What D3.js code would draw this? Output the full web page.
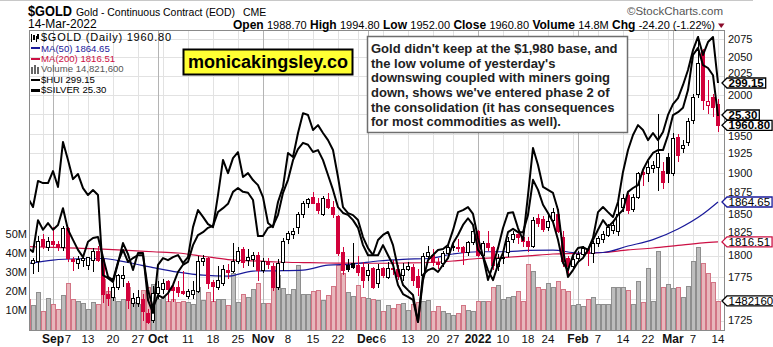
<!DOCTYPE html>
<html><head><meta charset="utf-8">
<script src="https://cdn.jsdelivr.net/npm/d3@7"></script>
<style>body{margin:0;background:#fff;} svg{display:block;font-family:"Liberation Sans",Arial,sans-serif;}</style>
</head><body><svg id="c" width="773" height="347"></svg>
<script>
// ---------- DATA ----------
const dates = ["2021-08-25","2021-08-26","2021-08-27","2021-08-30","2021-08-31",
"2021-09-01","2021-09-02","2021-09-03","2021-09-07","2021-09-08","2021-09-09","2021-09-10","2021-09-13","2021-09-14","2021-09-15","2021-09-16","2021-09-17","2021-09-20","2021-09-21","2021-09-22","2021-09-23","2021-09-24","2021-09-27","2021-09-28","2021-09-29","2021-09-30",
"2021-10-01","2021-10-04","2021-10-05","2021-10-06","2021-10-07","2021-10-08","2021-10-11","2021-10-12","2021-10-13","2021-10-14","2021-10-15","2021-10-18","2021-10-19","2021-10-20","2021-10-21","2021-10-22","2021-10-25","2021-10-26","2021-10-27","2021-10-28","2021-10-29",
"2021-11-01","2021-11-02","2021-11-03","2021-11-04","2021-11-05","2021-11-08","2021-11-09","2021-11-10","2021-11-11","2021-11-12","2021-11-15","2021-11-16","2021-11-17","2021-11-18","2021-11-19","2021-11-22","2021-11-23","2021-11-24","2021-11-26","2021-11-29","2021-11-30",
"2021-12-01","2021-12-02","2021-12-03","2021-12-06","2021-12-07","2021-12-08","2021-12-09","2021-12-10","2021-12-13","2021-12-14","2021-12-15","2021-12-16","2021-12-17","2021-12-20","2021-12-21","2021-12-22","2021-12-23","2021-12-27","2021-12-28","2021-12-29","2021-12-30","2021-12-31",
"2022-01-03","2022-01-04","2022-01-05","2022-01-06","2022-01-07","2022-01-10","2022-01-11","2022-01-12","2022-01-13","2022-01-14","2022-01-18","2022-01-19","2022-01-20","2022-01-21","2022-01-24","2022-01-25","2022-01-26","2022-01-27","2022-01-28","2022-01-31",
"2022-02-01","2022-02-02","2022-02-03","2022-02-04","2022-02-07","2022-02-08","2022-02-09","2022-02-10","2022-02-11","2022-02-14","2022-02-15","2022-02-16","2022-02-17","2022-02-18","2022-02-22","2022-02-23","2022-02-24","2022-02-25","2022-02-28",
"2022-03-01","2022-03-02","2022-03-03","2022-03-04","2022-03-07","2022-03-08","2022-03-09","2022-03-10","2022-03-11","2022-03-14"];

const open = [1803,1791,1794,1820,1811,1818,1814,1810,1833,1796,
1792,1795,1789,1795,1806,1796,1755,1752,1764,1774,
1768,1745,1745,1750,1734,1726,1757,1761,1770,1763,
1764,1759,1753,1756,1759,1794,1797,1769,1764,1768,
1783,1782,1794,1808,1795,1796,1801,1783,1794,1788,
1764,1793,1820,1826,1834,1850,1863,1871,1863,1850,
1868,1859,1847,1805,1789,1792,1789,1787,1777,1786,
1768,1786,1775,1786,1784,1777,1784,1787,1776,1777,
1800,1801,1793,1791,1803,1810,1811,1810,1805,1816,
1829,1801,1815,1811,1788,1797,1805,1820,1826,1822,
1817,1812,1845,1844,1834,1843,1850,1822,1797,1788,
1797,1802,1808,1803,1815,1820,1825,1831,1829,1859,
1873,1856,1871,1902,1900,1907,1908,1903,1921,1900,
1946,1932,1940,1968,2001,2060,1987,1998,1988.7];
const high = [1806,1797,1823,1826,1822,1834,1818,1836,1834,1799,
1800,1802,1799,1809,1812,1798,1764,1768,1779,1788,
1770,1757,1760,1755,1738,1765,1770,1773,1772,1768,
1770,1782,1761,1770,1800,1801,1799,1772,1788,1789,
1790,1815,1810,1810,1808,1805,1804,1797,1797,1792,
1796,1821,1830,1833,1852,1866,1870,1877,1870,1872,
1876,1866,1849,1810,1796,1815,1800,1793,1790,1787,
1790,1787,1793,1795,1789,1792,1793,1790,1784,1803,
1812,1808,1797,1806,1814,1818,1820,1812,1818,1832,
1831,1818,1830,1812,1802,1805,1822,1830,1829,1832,
1822,1846,1850,1847,1850,1857,1856,1829,1800,1800,
1806,1812,1810,1817,1824,1830,1838,1843,1866,1875,
1876,1875,1902,1906,1915,1915,1976,1914,1925,1951,
1950,1942,1970,2002,2078.8,2061,2020,2002,1994.8];
const low = [1785,1779,1781,1808,1806,1810,1806,1806,1793,1782,
1784,1787,1783,1781,1793,1745,1742,1747,1760,1764,
1738,1740,1740,1725,1721,1722,1750,1755,1746,1746,
1752,1754,1750,1750,1757,1788,1761,1746,1760,1765,
1773,1780,1790,1786,1788,1787,1771,1780,1785,1759,
1760,1782,1814,1820,1826,1845,1857,1862,1850,1848,
1856,1845,1800,1778,1781,1784,1776,1762,1770,1761,
1762,1774,1773,1777,1772,1771,1782,1765,1753,1772,
1795,1788,1784,1787,1800,1806,1805,1789,1800,1813,
1798,1797,1806,1783,1782,1790,1798,1815,1814,1810,
1804,1809,1834,1828,1830,1835,1827,1787,1779,1785,
1791,1797,1788,1792,1810,1815,1822,1826,1824,1852,
1850,1852,1868,1884,1889,1900,1878,1880,1888,1897,
1914,1925,1935,1962,1996,1980,1976,1972,1952];
const close = [1790,1795,1818,1812,1817,1814,1810,1833,1797,1794,
1796,1797,1798,1806,1795,1756,1751,1764,1777,1778,
1749,1751,1752,1736,1723,1757,1764,1768,1761,1760,
1758,1757,1759,1760,1794,1797,1768,1765,1772,1785,
1781,1794,1806,1793,1799,1801,1783,1794,1790,1764,
1792,1817,1827,1830,1850,1863,1868,1864,1855,1869,
1859,1850,1803,1783,1785,1787,1781,1772,1783,1763,
1785,1778,1786,1784,1776,1784,1788,1772,1763,1800,
1805,1793,1790,1803,1811,1812,1810,1805,1816,1829,
1801,1815,1810,1789,1797,1799,1818,1826,1822,1817,
1812,1843,1839,1832,1841,1852,1829,1794,1788,1796,
1802,1809,1803,1815,1821,1826,1834,1837,1850,1869,
1855,1871,1900,1899,1908,1910,1926,1889,1900,1944,
1923,1936,1966,1998,2043,1994,1992,1985,1960.8];
// volume in millions
const volume = [15.7,12.7,19.4,9.5,16.2,13.2,10.8,18,24.3,15.7,
15,13.6,10.6,14,13.2,26.5,20,17,15,16,
22,14,13,20.6,22,23.8,16,17,15,16,
14,15,14,13,22,15.3,19.4,14.8,15.9,16,
12.7,29.5,14.3,18.7,17,21,24.2,13.6,13.6,33.5,
28.6,21.8,18.7,21.3,33.9,18.7,18.7,20.2,20.6,15.3,
18,22.8,33.9,29.5,19.4,17.3,23,16.8,16.5,16,
15.5,9.5,12.5,11.2,13,13.6,9.9,13.1,14,14.6,
15.3,9.5,12.2,9.5,8.5,7.4,8.5,12.7,10,9.5,
14.6,14.6,14.6,22.4,23.3,15.9,16.8,17.6,20.3,14.6,
34.2,30.7,22,21,24.5,22,25.5,21,20,12.7,
13,12,16,17,13,13.2,13,22,22.3,22,
20.6,13.1,25.4,14.5,32.1,14.8,41.3,22.1,23.8,21.4,
22.1,17.1,22.8,36.1,43.2,34.8,29.5,24.7,14.8216];
const hui = [260.8,257.8,266.5,265.8,265.8,269.8,264.5,279.5,273.5,267.1,
268.8,264.1,261.8,263.5,261.8,235.1,234.1,232.8,239.1,245.8,
242.1,236.8,242.5,242.5,226.8,222.5,238.5,240.8,240.1,241.1,
241.8,239.1,241.1,251.1,256.8,254.5,252.1,251.1,261.8,273.5,
269.1,274.1,276.1,267.8,269.1,266.8,265.1,261.1,252.5,251.1,
259.5,264.5,275.8,274.5,282.5,289.1,288.5,283.5,285.1,282.5,
280.1,276.8,267.8,257.8,255.8,255.1,253.5,247.8,244.1,241.8,
246.8,248.5,249.5,245.1,237.5,231.8,230.1,228.5,219.5,233.5,
240.1,241.8,243.5,243.8,245.1,250.1,256.1,256.8,257.8,255.5,
247.5,241.5,233.5,238.5,244.1,250.8,255.8,256.1,250.8,246.8,
261.8,277.5,271.8,264.5,263.5,262.5,256.8,243.5,234.5,236.8,
239.5,240.8,243.5,247.5,256.1,257.8,256.1,254.5,259.5,269.5,
276.8,281.8,285.1,283.5,280.1,282.5,280.1,282.8,288.5,292.1,
294.1,298.5,303.5,310.1,314.5,308.5,312.8,314.5,299.15];
const silver = [22.55,22.47,23.13,22.93,23.07,22.93,23.03,23.38,22.93,22.72,
22.51,22.36,22.68,22.76,22.78,22.36,21.95,21.88,22.26,22.51,
22.26,22.34,22.40,22.40,21.68,21.30,21.57,21.51,21.61,21.78,
22.05,22.20,22.26,22.61,22.82,22.88,22.97,23.01,23.30,23.38,
23.47,23.72,23.80,23.72,23.70,23.55,22.80,22.80,22.97,23.01,
23.24,23.70,23.97,24.38,24.61,24.74,24.70,24.55,24.59,24.38,
24.07,23.76,23.40,23.28,23.24,23.13,22.97,22.61,22.40,22.40,
22.40,22.61,22.40,22.20,21.78,21.59,21.53,21.47,21.01,21.99,
22.09,22.13,22.05,22.20,22.34,22.65,22.82,23.03,23.17,23.03,
22.51,22.38,22.09,21.88,22.20,22.45,22.88,22.95,22.88,22.88,
23.24,23.97,23.76,23.45,23.28,23.09,22.72,22.24,22.09,22.40,
22.55,22.57,22.51,22.72,22.93,23.13,22.99,23.09,23.24,23.34,
23.72,23.80,23.86,24.18,24.38,24.53,24.59,24.59,24.90,25.32,
25.38,25.47,25.84,26.57,26.72,26.36,26.30,26.15,25.30];
const maDates = ["2021-08-25","2021-09-01","2021-09-09","2021-09-16","2021-09-23","2021-09-30","2021-10-07","2021-10-14","2021-10-21","2021-10-28","2021-11-04","2021-11-11","2021-11-18","2021-11-26","2021-12-03","2021-12-10","2021-12-17","2021-12-27","2022-01-03","2022-01-10","2022-01-18","2022-01-25","2022-02-01","2022-02-08","2022-02-15","2022-02-23","2022-03-02","2022-03-09","2022-03-14"];
const ma50 = [1790.9,1795.0,1796.5,1796.8,1792.1,1786.2,1780.9,1777.3,1776.2,1782.1,1782.4,1783.2,1789.1,1790.3,1793.9,1795.9,1796.8,1802.1,1804.8,1804.8,1806.3,1806.8,1803.3,1803.9,1811.6,1819.2,1831.9,1850.0,1864.65];
const ma200 = [1810.8,1810.0,1809.2,1807.8,1806.3,1804.8,1803.3,1799.5,1795.6,1794.0,1792.7,1792.0,1791.5,1791.3,1791.2,1791.5,1792.1,1793.9,1796.8,1798.0,1799.8,1802.1,1802.7,1803.9,1806.9,1809.2,1812.3,1815.3,1816.51];
const priceTicks = [1725,1750,1775,1800,1825,1850,1875,1900,1925,1950,1975,2000,2025,2050,2075];
const volTicks = [10,20,30,40,50];
const tickDates = ["2021-09-01","2021-09-07","2021-09-13","2021-09-20","2021-09-27","2021-10-01","2021-10-11","2021-10-18","2021-10-25","2021-11-01","2021-11-08","2021-11-15","2021-11-22","2021-12-01","2021-12-06","2021-12-13","2021-12-20","2021-12-27","2022-01-03","2022-01-10","2022-01-18","2022-01-24","2022-02-01","2022-02-07","2022-02-14","2022-02-22","2022-03-01","2022-03-07","2022-03-14"];
const tickTexts = ["Sep","7","13","20","27","Oct","11","18","25","Nov","8","15","22","Dec","6","13","20","27","2022","10","18","24","Feb","7","14","22","Mar","7","14"];
const legendTexts = ["$GOLD (Daily) 1960.80","MA(50) 1864.65","MA(200) 1816.51","Volume 14,821,600","$HUI 299.15","$SILVER 25.30"];
const statLabels = ["Open","High","Low","Close","Volume","Chg"];
const statValues = ["1988.70","1994.80","1952.00","1960.80","14.8M","-24.20 (-1.22%)"];
const noteLines = ["Gold didn't keep at the $1,980 base, and","the low volume of yesterday's","downswing coupled with miners going","down, shows we've entered phase 2 of","the consolidation (it has consequences","for most commodities as well)."];

// ---------- SETUP ----------
const svg = d3.select('#c');
const L=29, R=725, T=30, B=331;
const RED='#d2003a', NAVY='#1a1a9a', MARED='#cc1044';
const x = d3.scalePoint().domain(dates).range([28,718]);
const y = d3.scaleLog().domain([1725,2075]).range([320.7,39]);
const yVol = d3.scaleLinear().domain([0,50]).range([329,234.3]);
const yHui = d3.scaleLinear().domain([220,320]).range([320.45,20.45]);
const ySil = d3.scaleLinear().domain([20,27]).range([370.4,34.4]);
const parse = d3.timeParse('%Y-%m-%d');

svg.append('rect').attr('width',773).attr('height',347).attr('fill','#fff');
svg.append('line').attr('x1',0).attr('x2',753).attr('y1',0.5).attr('y2',0.5).attr('stroke','#c8c8c8');

const defs = svg.append('defs');
defs.append('clipPath').attr('id','plot').append('rect').attr('x',L).attr('y',T).attr('width',R-L).attr('height',B-T);

// grid
const grid = svg.append('g').attr('shape-rendering','crispEdges');
priceTicks.forEach(t=>{
  const yy=Math.round(y(t))+0.5;
  grid.append('line').attr('x1',L).attr('x2',R).attr('y1',yy).attr('y2',yy).attr('stroke','#e2e2e2');
});
dates.forEach((d,i)=>{
  if(i===0) return;
  const a=parse(dates[i-1]), b=parse(d);
  const newMonth = a.getMonth()!==b.getMonth();
  const newWeek = b.getDay() < a.getDay() || (b-a) > 4*864e5;
  if(newMonth||newWeek){
    const xx=Math.round(x(d))+0.5;
    grid.append('line').attr('x1',xx).attr('x2',xx).attr('y1',T).attr('y2',B)
      .attr('stroke',newMonth?'#b4b4b4':'#e2e2e2');
  }
});

const plot = svg.append('g').attr('clip-path','url(#plot)');

// volume
const vg = plot.append('g').attr('shape-rendering','crispEdges');
dates.forEach((d,i)=>{
  const down = i>0 ? close[i]<close[i-1] : close[i]<open[i];
  const px=Math.round(x(d));
  const top=Math.round(yVol(volume[i]))+0.5;
  vg.append('rect').attr('x',px-1.5).attr('width',4).attr('y',top).attr('height',B+2-top)
    .attr('fill',down?'#e8b7bc':'#bdbdbd').attr('stroke',down?'#d27585':'#8e8e8e').attr('stroke-width',1);
});

// moving averages
const maLine = arr => d3.line().x((d,i)=>x(maDates[i])).y(d=>y(d)).curve(d3.curveMonotoneX)(arr);
plot.append('path').attr('d',maLine(ma200)).attr('fill','none').attr('stroke',MARED).attr('stroke-width',1.2);
plot.append('path').attr('d',maLine(ma50)).attr('fill','none').attr('stroke',NAVY).attr('stroke-width',1.2);

// candles
const cg = plot.append('g').attr('shape-rendering','crispEdges');
dates.forEach((d,i)=>{
  const prev = i>0?close[i-1]:open[i];
  const col = close[i]<prev ? RED : '#000';
  const hollow = close[i]>=open[i];
  const px=Math.round(x(d));
  cg.append('rect').attr('x',px).attr('width',1)
    .attr('y',Math.round(y(high[i]))).attr('height',Math.max(1,Math.round(y(low[i]))-Math.round(y(high[i]))))
    .attr('fill',col);
  const t=Math.round(y(Math.max(open[i],close[i])))+0.5;
  const b=Math.round(y(Math.min(open[i],close[i])))+0.5;
  cg.append('rect').attr('x',px-1.5).attr('width',3).attr('y',t).attr('height',Math.max(1,b-t))
    .attr('fill',hollow?'#fff':col).attr('stroke',col).attr('stroke-width',1);
});

// overlays
const lg = d3.line().x((d,i)=>x(dates[i])).curve(d3.curveLinear);
plot.append('path').attr('d',lg.y(d=>ySil(d))(silver)).attr('fill','none').attr('stroke','#000').attr('stroke-width',2).attr('stroke-linejoin','round');
plot.append('path').attr('d',lg.y(d=>yHui(d))(hui)).attr('fill','none').attr('stroke','#000').attr('stroke-width',2).attr('stroke-linejoin','round');

// frame
svg.append('rect').attr('x',L+0.5).attr('y',T+0.5).attr('width',R-L-1).attr('height',B-T-1)
  .attr('fill','none').attr('stroke','#8a8a8a').attr('shape-rendering','crispEdges');

// value boxes (positions from data)
const boxes = [
  {yc:yHui(hui[hui.length-1]), txt:'299.15', stroke:'#000', bold:true},
  {yc:ySil(silver[silver.length-1])-1, txt:'25.30', stroke:'#000', bold:true},
  {yc:y(close[close.length-1]), txt:'1960.80', stroke:'#000', bold:true},
  {yc:y(ma50[ma50.length-1]), txt:'1864.65', stroke:NAVY, bold:false},
  {yc:y(ma200[ma200.length-1]), txt:'1816.51', stroke:MARED, bold:false},
  {yc:yVol(volume[volume.length-1]), txt:'1482160', stroke:'#000', bold:false}
];

// axes labels (skip the ones fully hidden behind value boxes, nudge the partly covered ones)
priceTicks.forEach(t=>{
  const yy=y(t);
  if(boxes.some(b=>Math.abs(b.yc-yy)<5)) return;
  let base=yy+3.5;
  boxes.forEach(b=>{
    if(yy<b.yc && base>b.yc-6) base=b.yc-6;
    if(yy>b.yc && base-8.5<b.yc+6) base=b.yc+14.5;
  });
  svg.append('text').attr('x',728).attr('y',base).attr('font-size',11).attr('fill','#111').text(t);
});
volTicks.forEach(v=>{
  svg.append('text').attr('x',27).attr('y',yVol(v)+4).attr('text-anchor','end').attr('font-size',11).attr('fill','#111').text(v+'M');
});
tickDates.forEach((d,i)=>{
  const isMonth = isNaN(+tickTexts[i]) || tickTexts[i].length===4;
  svg.append('text').attr('x',x(d)).attr('y',343).attr('text-anchor','middle')
    .attr('font-size',isMonth?12:11.5).attr('font-weight',isMonth?'bold':'normal').attr('fill','#111').text(tickTexts[i]);
});

// legend
const legColors=['#000',NAVY,MARED,'#555','#000','#000'];
legendTexts.forEach((s,i)=>{
  const cy=37.5+10.4*i;
  const t=svg.append('text').attr('x',41).attr('y',cy+3.6).attr('font-size',i===0?11:9.6).attr('fill',legColors[i]).text(s);
  if(i===0) t.attr('textLength',130).attr('lengthAdjust','spacing');
});
const li = svg.append('g').attr('shape-rendering','crispEdges');
li.append('rect').attr('x',31).attr('y',34).attr('width',1).attr('height',8).attr('fill','#000');
li.append('rect').attr('x',33).attr('y',35).attr('width',2).attr('height',5).attr('fill','#000');
li.append('rect').attr('x',36).attr('y',36).attr('width',1).attr('height',6).attr('fill','#000');
li.append('rect').attr('x',37).attr('y',34).attr('width',2).attr('height',5).attr('fill','#000');
li.append('rect').attr('x',31).attr('y',47).attr('width',9).attr('height',2).attr('fill',NAVY);
li.append('rect').attr('x',31).attr('y',57.5).attr('width',9).attr('height',2).attr('fill',MARED);
li.append('rect').attr('x',31).attr('y',67).attr('width',2).attr('height',7).attr('fill','#666');
li.append('rect').attr('x',34).attr('y',65).attr('width',2).attr('height',9).attr('fill','#666');
li.append('rect').attr('x',37).attr('y',67).attr('width',2).attr('height',7).attr('fill','#666');
li.append('rect').attr('x',31).attr('y',78.5).attr('width',9).attr('height',2.5).attr('fill','#000');
li.append('rect').attr('x',31).attr('y',89).attr('width',9).attr('height',2.5).attr('fill','#000');

// watermark
svg.append('rect').attr('x',183.5).attr('y',49.5).attr('width',169).attr('height',25).attr('fill','#ffff33').attr('stroke','#000').attr('stroke-width',2);
svg.append('text').attr('x',268).attr('y',68).attr('text-anchor','middle').attr('font-size',17.5).attr('font-weight','bold').attr('fill','#000')
  .attr('textLength',160).attr('lengthAdjust','spacingAndGlyphs').text('monicakingsley.co');

// annotation box
svg.append('rect').attr('x',367.5).attr('y',36.5).attr('width',260).attr('height',96).attr('fill','#fff').attr('stroke','#6e6e6e').attr('stroke-width',1.5);
noteLines.forEach((s,i)=>{
  svg.append('text').attr('x',371).attr('y',53+14.67*i).attr('font-size',13).attr('font-weight','bold').attr('fill','#222').text(s);
});

// value boxes drawing
boxes.forEach(bx=>{
  const yc=bx.yc;
  const g=svg.append('g');
  const t=g.append('text').attr('x',728.5).attr('y',yc+4).attr('font-size',11.5).attr('font-weight',bx.bold?'bold':'normal').attr('fill','#000').text(bx.txt);
  const w=t.node().getComputedTextLength();
  const r=728.5+w+2;
  g.insert('path','text').attr('d',`M722,${yc} L727,${yc-5} L${r},${yc-5} L${r},${yc+5} L727,${yc+5} Z`)
    .attr('fill','#fff').attr('stroke',bx.stroke).attr('stroke-width',1.3);
});

// header
svg.append('text').attr('x',28).attr('y',16).attr('font-size',15).attr('font-weight','bold').attr('textLength',44).attr('lengthAdjust','spacingAndGlyphs').text('$GOLD');
svg.append('text').attr('x',76).attr('y',16).attr('font-size',11.5).attr('textLength',159).attr('lengthAdjust','spacingAndGlyphs').text('Gold - Continuous Contract (EOD)');
svg.append('text').attr('x',243).attr('y',15.5).attr('font-size',10.5).text('CME');
svg.append('text').attr('x',723).attr('y',15).attr('text-anchor','end').attr('font-size',11.5).attr('fill','#555').text('\u00A9StockCharts.com');
svg.append('text').attr('x',28).attr('y',28).attr('font-size',12).text('14-Mar-2022');
const st = svg.append('text').attr('x',233).attr('y',28.5).attr('textLength',482).attr('lengthAdjust','spacing');
statLabels.forEach((l,i)=>{
  st.append('tspan').attr('font-weight','bold').attr('font-size',12).text((i?'  ':'')+l+' ');
  st.append('tspan').attr('font-size',11).text(statValues[i]);
});
svg.append('path').attr('d','M718,23.5 L724.5,23.5 L721.25,28 Z').attr('fill','#8a0a2a');
</script></body></html>
